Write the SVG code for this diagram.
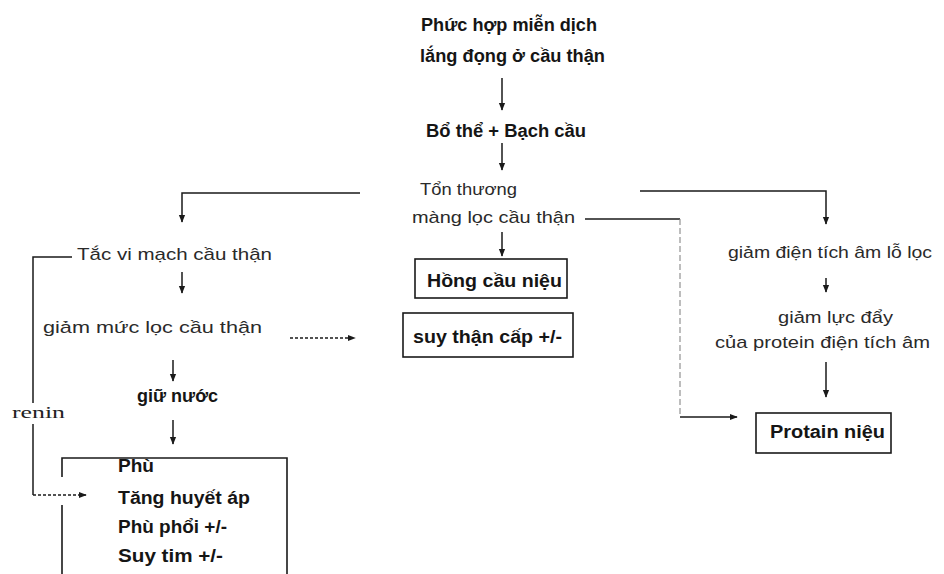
<svg xmlns="http://www.w3.org/2000/svg" width="944" height="574" viewBox="0 0 944 574">
<style>
.b{font-family:"Liberation Sans",Arial,sans-serif;font-weight:bold;font-size:18px;fill:#151515}
.n{font-family:"Liberation Sans",Arial,sans-serif;font-size:17px;fill:#2a2a2a}
.s{font-family:"Liberation Serif","Times New Roman",serif;font-size:17px;fill:#222}
.box{fill:#fff;stroke:#1a1a1a;stroke-width:1.6}
.ob{fill:none;stroke:#1a1a1a;stroke-width:1.6}
.c{fill:none;stroke:#1a1a1a;stroke-width:1.5}
.d{fill:none;stroke:#1a1a1a;stroke-width:1.3;stroke-dasharray:3 2}
.f{fill:none;stroke:#888;stroke-width:1.1;stroke-dasharray:6 3}
</style>
<defs>
<marker id="ah" viewBox="0 0 10 10" refX="9" refY="5" markerWidth="8" markerHeight="8" markerUnits="userSpaceOnUse" orient="auto">
<path d="M0,1 L10,5 L0,9 z" fill="#1a1a1a"/>
</marker>
</defs>
<rect width="944" height="574" fill="#fff"/>
<g id="connectors">
<path class="c" d="M502,78 V110" marker-end="url(#ah)"/>
<path class="c" d="M502,143 V170" marker-end="url(#ah)"/>
<path class="c" d="M360,193 H182 V222" marker-end="url(#ah)"/>
<path class="c" d="M640,191 H826 V224" marker-end="url(#ah)"/>
<path class="c" d="M585,219 H680"/>
<path class="f" d="M680,219 V417"/>
<path class="c" d="M680,417 H737" marker-end="url(#ah)"/>
<path class="c" d="M502,232 V256" marker-end="url(#ah)"/>
<path class="c" d="M182,272 V293" marker-end="url(#ah)"/>
<path class="d" d="M290,338 H355" marker-end="url(#ah)"/>
<path class="c" d="M173,360 V381" marker-end="url(#ah)"/>
<path class="c" d="M173,420 V444" marker-end="url(#ah)"/>
<path class="c" d="M72,257 H33 V403"/>
<path class="c" d="M33,424 V495"/>
<path class="d" d="M33,495 H86" marker-end="url(#ah)"/>
<path class="c" d="M826,278 V292" marker-end="url(#ah)"/>
<path class="c" d="M826,362 V397" marker-end="url(#ah)"/>
</g>
<g id="n-phuchop">
<text class="b" x="421" y="31" textLength="176" lengthAdjust="spacingAndGlyphs">Phức hợp miễn dịch</text>
<text class="b" x="420" y="62" textLength="185" lengthAdjust="spacingAndGlyphs">lắng đọng ở cầu thận</text>
</g>
<g id="n-bothe">
<text class="b" x="426" y="137" textLength="160" lengthAdjust="spacingAndGlyphs">Bổ thể + Bạch cầu</text>
</g>
<g id="n-tonthuong">
<text class="n" x="420" y="195" textLength="97" lengthAdjust="spacingAndGlyphs">Tổn thương</text>
<text class="n" x="412" y="223" textLength="163" lengthAdjust="spacingAndGlyphs">màng lọc cầu thận</text>
</g>
<g id="n-tacmach">
<text class="n" x="77" y="260" textLength="195" lengthAdjust="spacingAndGlyphs">Tắc vi mạch cầu thận</text>
</g>
<g id="n-giammuc">
<text class="n" x="43" y="333" textLength="219" lengthAdjust="spacingAndGlyphs">giảm mức lọc cầu thận</text>
</g>
<g id="n-giunuoc">
<text class="b" x="137" y="402" textLength="81" lengthAdjust="spacingAndGlyphs" style="font-weight:600">giữ nước</text>
</g>
<g id="n-renin">
<text class="s" x="12" y="418" textLength="53" lengthAdjust="spacingAndGlyphs">renin</text>
</g>
<g id="n-phu">
<path class="ob" d="M62,477 V458 H287 V590 M62,505 V590"/>
<text class="b" x="118" y="472" textLength="36" lengthAdjust="spacingAndGlyphs">Phù</text>
<text class="b" x="118" y="504" textLength="132" lengthAdjust="spacingAndGlyphs">Tăng huyết áp</text>
<text class="b" x="118" y="533" textLength="109" lengthAdjust="spacingAndGlyphs">Phù phổi +/-</text>
<text class="b" x="118" y="562" textLength="105" lengthAdjust="spacingAndGlyphs">Suy tim +/-</text>
</g>
<g id="n-hongcau">
<rect class="box" x="415" y="259" width="152" height="39"/>
<text class="b" x="427" y="287" textLength="135" lengthAdjust="spacingAndGlyphs">Hồng cầu niệu</text>
</g>
<g id="n-suythan">
<rect class="box" x="403" y="313" width="170" height="44"/>
<text class="b" x="413" y="343" textLength="149" lengthAdjust="spacingAndGlyphs">suy thận cấp +/-</text>
</g>
<g id="n-giamdien">
<text class="n" x="728" y="258" textLength="204" lengthAdjust="spacingAndGlyphs">giảm điện tích âm lỗ lọc</text>
</g>
<g id="n-giamluc">
<text class="n" x="778" y="323" textLength="115" lengthAdjust="spacingAndGlyphs">giảm lực đẩy</text>
<text class="n" x="715" y="348" textLength="215" lengthAdjust="spacingAndGlyphs">của protein điện tích âm</text>
</g>
<g id="n-protain">
<rect class="box" x="756" y="413" width="135" height="40"/>
<text class="b" x="770" y="438" textLength="115" lengthAdjust="spacingAndGlyphs">Protain niệu</text>
</g>
</svg>
